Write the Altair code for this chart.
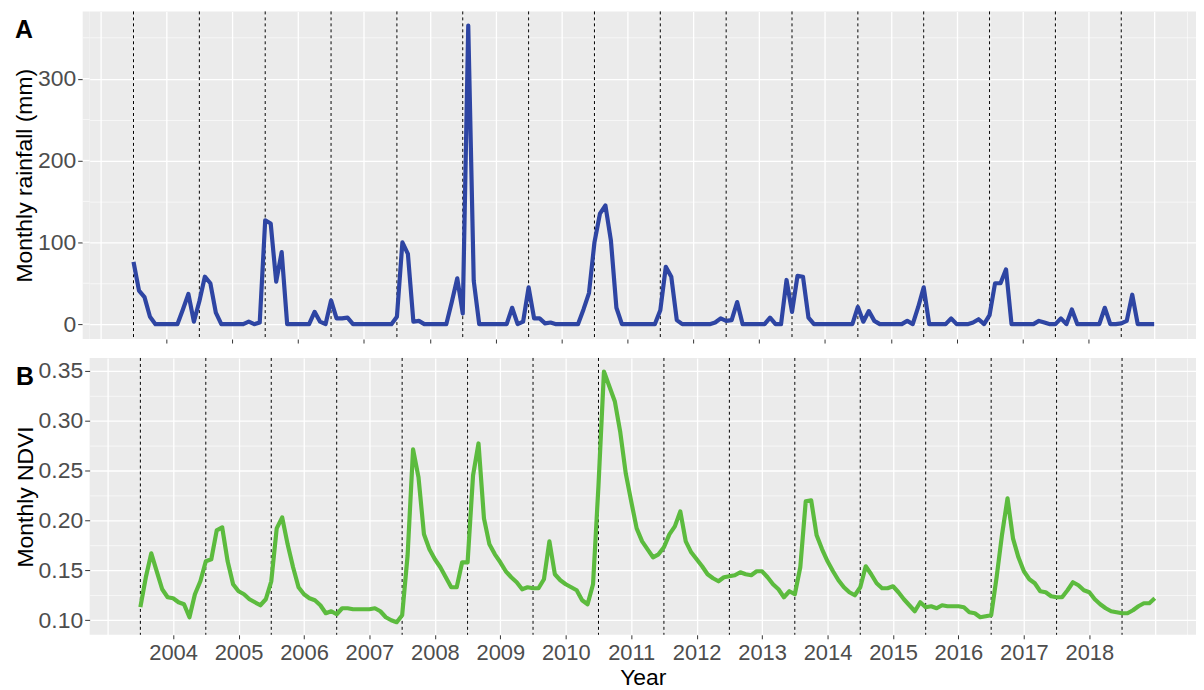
import altair as alt
import pandas as pd

# ---------------- data (monthly, July 2003 .. January 2019) ----------------
START_YEAR = 2003
START_MONTH = 7

rainfall_mm = [
    # 2003 Jul-Dec
    76, 41, 33, 9, 0, 0,
    # 2004
    0, 0, 0, 18, 37, 3, 28, 58, 50, 14, 0, 0,
    # 2005
    0, 0, 0, 3, 0, 2, 127, 123, 52, 88, 0, 0,
    # 2006
    0, 0, 0, 15, 3, 0, 29, 7, 7, 8, 0, 0,
    # 2007
    0, 0, 0, 0, 0, 0, 9, 100, 86, 3, 4, 0,
    # 2008
    0, 0, 0, 0, 27, 56, 13, 365, 53, 0, 0, 0,
    # 2009
    0, 0, 0, 20, 0, 3, 45, 7, 7, 1, 2, 0,
    # 2010
    0, 0, 0, 0, 18, 38, 100, 135, 145, 102, 20, 0,
    # 2011
    0, 0, 0, 0, 0, 0, 17, 70, 58, 5, 0, 0,
    # 2012
    0, 0, 0, 0, 2, 7, 4, 5, 27, 0, 0, 0,
    # 2013
    0, 0, 8, 0, 0, 54, 15, 59, 58, 8, 0, 0,
    # 2014
    0, 0, 0, 0, 0, 0, 21, 3, 16, 4, 0, 0,
    # 2015
    0, 0, 0, 4, 0, 21, 45, 0, 0, 0, 0, 7,
    # 2016
    0, 0, 0, 2, 6, 0, 11, 50, 50, 67, 0, 0,
    # 2017
    0, 0, 0, 4, 2, 0, 0, 7, 0, 18, 0, 0,
    # 2018
    0, 0, 0, 20, 0, 0, 1, 4, 36, 0, 0, 0,
    # 2019 Jan
    0,
]

ndvi = [
    # 2003 Jul-Dec
    0.113, 0.143, 0.167, 0.149, 0.131, 0.123,
    # 2004
    0.122, 0.118, 0.116, 0.103, 0.126, 0.139, 0.159, 0.161, 0.190, 0.193, 0.159, 0.136,
    # 2005
    0.129, 0.126, 0.121, 0.118, 0.115, 0.121, 0.139, 0.192, 0.203, 0.176, 0.153, 0.133,
    # 2006
    0.126, 0.122, 0.120, 0.115, 0.107, 0.109, 0.106, 0.112, 0.112, 0.111, 0.111, 0.111,
    # 2007
    0.111, 0.112, 0.109, 0.103, 0.100, 0.098, 0.105, 0.165, 0.271, 0.243, 0.186, 0.171,
    # 2008
    0.161, 0.153, 0.143, 0.133, 0.133, 0.158, 0.158, 0.245, 0.277, 0.202, 0.176, 0.166,
    # 2009
    0.158, 0.149, 0.143, 0.138, 0.131, 0.133, 0.132, 0.132, 0.141, 0.179, 0.146, 0.140,
    # 2010
    0.136, 0.133, 0.130, 0.120, 0.116, 0.136, 0.235, 0.349, 0.334, 0.319, 0.288, 0.247,
    # 2011
    0.219, 0.192, 0.179, 0.171, 0.163, 0.166, 0.173, 0.186, 0.194, 0.209, 0.179, 0.168,
    # 2012
    0.161, 0.154, 0.146, 0.142, 0.139, 0.143, 0.144, 0.145, 0.148, 0.146, 0.145, 0.149,
    # 2013
    0.149, 0.143, 0.136, 0.131, 0.123, 0.129, 0.126, 0.153, 0.219, 0.220, 0.185, 0.171,
    # 2014
    0.159, 0.149, 0.140, 0.133, 0.128, 0.125, 0.133, 0.154, 0.146, 0.137, 0.132, 0.132,
    # 2015
    0.134, 0.128, 0.121, 0.115, 0.109, 0.118, 0.113, 0.114, 0.112, 0.115, 0.114, 0.114,
    # 2016
    0.114, 0.113, 0.108, 0.107, 0.103, 0.104, 0.105, 0.143, 0.186, 0.222, 0.182, 0.163,
    # 2017
    0.149, 0.141, 0.137, 0.129, 0.128, 0.124, 0.123, 0.123, 0.130, 0.138, 0.135, 0.130,
    # 2018
    0.128, 0.121, 0.116, 0.112, 0.109, 0.108, 0.107, 0.107, 0.110, 0.114, 0.117, 0.117,
    # 2019 Jan
    0.122,
]

year_labels = list(range(2004, 2019))                  # labelled ticks
season_starts = [y + 0.5 for y in range(2003, 2019)]   # dashed lines (July)
x_grid_values = [v / 2 for v in range(4006, 4040)]     # 2003 .. 2019.5
rain_major_values = [0, 100, 200, 300]
rain_minor_values = [50, 150, 250, 350]
ndvi_grid_values = [0.10, 0.125, 0.15, 0.175, 0.20, 0.225, 0.25, 0.275, 0.30, 0.325, 0.35]

# ---------------- tables ----------------
def decimal_time(n):
    return [START_YEAR + (START_MONTH - 1 + i) / 12 for i in range(n)]

rain_df = pd.DataFrame({"t": decimal_time(len(rainfall_mm)), "v": rainfall_mm})
ndvi_df = pd.DataFrame({"t": decimal_time(len(ndvi)), "v": ndvi})
dash_df = pd.DataFrame({"t": season_starts})

FONT = "Liberation Sans"
LABEL_COL = "#4D4D4D"
TICK_COL = "#333333"
PANEL_BG = "#EBEBEB"

# panel A is drawn 7px wider to the left than its Vega-Lite plot area
A_SHIFT = 7
W = 1111
HA, HB = 329, 278
xA_scale = alt.Scale(domain=[2002.834, 2019.635], nice=False, zero=False)
xB_scale = alt.Scale(domain=[2002.725, 2019.63], nice=False, zero=False)

x_major = "datum.value % 1 === 0"
x_tick = "datum.value % 1 === 0 && datum.value >= {} && datum.value <= {}".format(
    year_labels[0], year_labels[-1])


def x_axis(show_labels):
    kw = dict(
        values=x_grid_values,
        grid=True,
        gridColor="white",
        gridWidth={"condition": {"test": x_major, "value": 1.3}, "value": 0.6},
        domain=False,
        tickColor=TICK_COL,
        tickOpacity={"condition": {"test": x_tick, "value": 1}, "value": 0},
        tickSize=4,
        tickWidth=1,
        labelOverlap=False,
        labelFlush=False,
    )
    if show_labels:
        kw.update(
            labelExpr="(" + x_tick + ") ? ('' + datum.value) : ''",
            labelFont=FONT,
            labelFontSize=22,
            labelColor=LABEL_COL,
            labelPadding=4,
            title="Year",
            titleFont=FONT,
            titleFontSize=23,
            titleFontWeight="normal",
            titleColor="black",
            titlePadding=3,
        )
    else:
        kw.update(labels=False, title=None)
    return alt.Axis(**kw)


def y_axis(values, major_test, label_expr, title, title_pad, offset=0):
    return alt.Axis(
        values=values,
        grid=True,
        gridColor="white",
        gridWidth={"condition": {"test": major_test, "value": 1.3}, "value": 0.6},
        domain=False,
        offset=offset,
        tickColor=TICK_COL,
        tickOpacity={"condition": {"test": major_test, "value": 1}, "value": 0},
        tickSize=5,
        tickWidth=1,
        labelExpr=label_expr,
        labelFont=FONT,
        labelFontSize=23,
        labelColor=LABEL_COL,
        labelPadding=2,
        labelOverlap=False,
        title=title,
        titleFont=FONT,
        titleFontSize=23,
        titleFontWeight="normal",
        titleColor="black",
        titlePadding=title_pad,
    )


rain_major = "datum.value % 100 === 0"
ndvi_major = "abs(datum.value * 20 - round(datum.value * 20)) < 0.001"

yA = alt.Scale(domain=[-18.2, 382.2], nice=False, zero=False)
yB = alt.Scale(domain=[0.0854, 0.3626], nice=False, zero=False)

axA_x = x_axis(False)
axB_x = x_axis(True)
axA_y = y_axis(rain_major_values + rain_minor_values, rain_major,
               "(" + rain_major + ") ? ('' + datum.value) : ''",
               "Monthly rainfall (mm)", 1, offset=A_SHIFT)
axB_y = y_axis(ndvi_grid_values, ndvi_major,
               "(" + ndvi_major + ") ? format(datum.value, '.2f') : ''",
               "Monthly NDVI", 1)


def panel(df, color, xscale, ax_x, ax_y, yscale, tag, tag_dx, height, extra=()):
    line = alt.Chart(df).mark_line(
        color=color, strokeWidth=4.2, strokeJoin="round"
    ).encode(
        x=alt.X("t:Q", scale=xscale, axis=ax_x),
        y=alt.Y("v:Q", scale=yscale, axis=ax_y),
    )
    dashes = alt.Chart(dash_df).mark_rule(
        color="black", strokeWidth=1, strokeDash=[3, 3]
    ).encode(x=alt.X("t:Q", scale=xscale, axis=ax_x))
    label = alt.Chart(pd.DataFrame({"tag": [tag]})).mark_text(
        font=FONT, fontSize=25, fontWeight="bold", color="black",
        align="left", baseline="top"
    ).encode(x=alt.value(tag_dx), y=alt.value(7), text="tag:N")
    return alt.layer(*extra, dashes, line, label).properties(width=W, height=height)


# left strip of panel A's grey background, with its horizontal grid lines
stripA = alt.Chart(pd.DataFrame({"v": [0]})).mark_rect(color=PANEL_BG).encode(
    x=alt.value(-A_SHIFT), x2=alt.value(0), y=alt.value(0), y2=alt.value(HA))
strip_major = alt.Chart(pd.DataFrame({"v": rain_major_values})).mark_rule(
    color="white", strokeWidth=1.3).encode(
    y=alt.Y("v:Q", scale=yA, axis=axA_y), x=alt.value(-A_SHIFT), x2=alt.value(0))
strip_minor = alt.Chart(pd.DataFrame({"v": rain_minor_values})).mark_rule(
    color="white", strokeWidth=0.6).encode(
    y=alt.Y("v:Q", scale=yA, axis=axA_y), x=alt.value(-A_SHIFT), x2=alt.value(0))

panelA = panel(rain_df, "#2E45A3", xA_scale, axA_x, axA_y, yA, "A",
               -75, HA, extra=(stripA, strip_major, strip_minor))
panelB = panel(ndvi_df, "#5CBB3E", xB_scale, axB_x, axB_y, yB, "B", -74, HB)

chart = alt.vconcat(panelA, panelB, spacing=13).properties(
    padding={"left": 5, "top": 1, "right": 0, "bottom": 0},
    background="white",
).configure_view(fill=PANEL_BG, strokeWidth=0)

chart.save("out.html", embed_options={"renderer": "svg", "actions": False})
